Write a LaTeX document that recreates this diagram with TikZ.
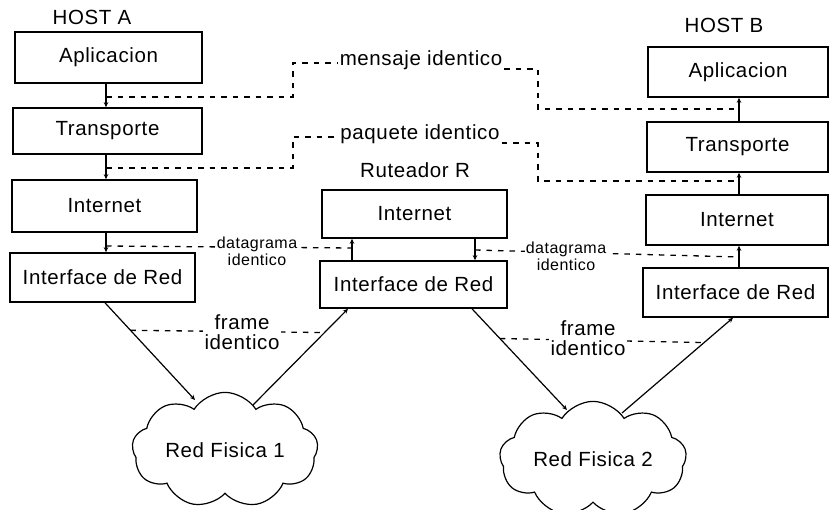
\documentclass[tikz,border=0pt]{standalone}
\usepackage{fontspec}
\setmainfont{Liberation Sans}[LetterSpace=3]
\usetikzlibrary{arrows.meta,shapes.symbols,calc}

\tikzset{
  layer/.style={draw, line width=1.6pt, inner sep=0pt, fill=white,
    font=\fontsize{20.5}{22}\selectfont},
  title/.style={font=\fontsize{20.5}{22}\selectfont},
  lbl/.style={fill=white, inner sep=2pt, align=center,
    font=\fontsize{20.5}{20}\selectfont},
  smalllbl/.style={fill=white, inner sep=1pt, align=center,
    font=\fontsize{16}{17}\selectfont},
  flow/.style={line width=1.2pt, -{Stealth[length=5pt,width=4.5pt]}},
  peer/.style={line width=1.3pt, dash pattern=on 5.5pt off 6pt},
  net/.style={cloud, draw, line width=1.2pt, cloud puffs=9, cloud puff arc=115,
    aspect=1.9, inner sep=0pt, font=\fontsize{20.5}{22}\selectfont},
}

\begin{document}
\begin{tikzpicture}[x=1pt, y=-1pt]
\useasboundingbox (0,0) rectangle (830,510);

% ---- Host A stack
\node[title] (hostA) at (92,17) {HOST A};
\node[layer, minimum width=187pt, minimum height=51pt] (aApp) at (108.5,57.5) {Aplicacion};
\node[layer, minimum width=189pt, minimum height=46pt] (aTra) at (107.5,131) {Transporte};
\node[layer, minimum width=185pt, minimum height=52pt] (aInt) at (104.5,206) {Internet};
\node[layer, minimum width=185pt, minimum height=49pt] (aIR)  at (102.5,277.5) {Interface de Red};

% ---- Router R stack
\node[title] (router) at (415,170) {Ruteador R};
\node[layer, minimum width=185pt, minimum height=48pt] (rInt) at (414.5,214) {Internet};
\node[layer, minimum width=187pt, minimum height=47pt] (rIR)  at (413.5,284.5) {Interface de Red};

% ---- Host B stack
\node[title] (hostB) at (724,25) {HOST B};
\node[layer, minimum width=180pt, minimum height=50pt] (bApp) at (738,72) {Aplicacion};
\node[layer, minimum width=181pt, minimum height=50pt] (bTra) at (737.5,147) {Transporte};
\node[layer, minimum width=182pt, minimum height=50pt] (bInt) at (737,220) {Internet};
\node[layer, minimum width=185pt, minimum height=49pt] (bIR)  at (735.5,292.5) {Interface de Red};

% ---- physical networks
\node[net, minimum width=186pt, minimum height=100pt] (net1) at (225,450) {Red Fisica 1};
\node[net, minimum width=187pt, minimum height=98pt] (net2) at (593,459) {Red Fisica 2};

% columns of the vertical flows
\coordinate (xA) at (106,0);
\coordinate (xB) at (739,0);
\coordinate (xRl) at (352,0);
\coordinate (xRr) at (475,0);

% ---- flows inside each stack
\draw[flow] (aApp.south -| xA) -- (aTra.north -| xA);
\draw[flow] (aTra.south -| xA) -- (aInt.north -| xA);
\draw[flow] (aInt.south -| xA) -- (aIR.north -| xA);

\draw[flow] (rIR.north -| xRl) -- (rInt.south -| xRl);
\draw[flow] (rInt.south -| xRr) -- (rIR.north -| xRr);

\draw[flow] (bIR.north -| xB) -- (bInt.south -| xB);
\draw[flow] (bInt.north -| xB) -- (bTra.south -| xB);
\draw[flow] (bTra.north -| xB) -- (bApp.south -| xB);

% ---- links to the physical networks
\coordinate (aOut) at (aIR.south -| 105,0);
\coordinate (n1in) at ($(net1.center)+(-30,-50)$);
\coordinate (n1out) at ($(net1.center)+(28,-45)$);
\coordinate (rInP) at (rIR.south -| 348,0);
\coordinate (rOutP) at (rIR.south -| 472,0);
\coordinate (n2in) at ($(net2.center)+(-26,-49)$);
\coordinate (n2out) at ($(net2.center)+(29,-46)$);
\coordinate (bInP) at (bIR.south -| 733,0);

\draw[flow] (aOut) -- (n1in);
\draw[flow] (n1out) -- (rInP);
\draw[flow] (rOutP) -- (n2in);
\draw[flow] (n2out) -- (bInP);

% ---- peer-to-peer (dashed) relations
% mensaje identico
\node[lbl] (msg) at (421,60) {mensaje identico};
\coordinate (m1) at (xA |- 0,97);
\coordinate (m2) at (739,109);
\draw[peer] (m1) -- (293,97) -- (293,63) -- (msg.west |- 0,63);
\draw[peer] (msg.east |- 0,69) -- (538,69) -- (538,109) -- (m2);

% paquete identico
\node[lbl] (pkt) at (420,134) {paquete identico};
\coordinate (p1) at (xA |- 0,168);
\coordinate (p2) at (739,181);
\draw[peer] (p1) -- (293,168) -- (293,137) -- (pkt.west |- 0,137);
\draw[peer] (pkt.east |- 0,143) -- (538,143) -- (538,181) -- (p2);

% datagrama identico
\coordinate (d1) at (xA |- 0,246);
\coordinate (d2) at (xRl |- 0,248);
\coordinate (d3) at (xRr |- 0,250);
\coordinate (d4) at (739,257);
\draw[peer] (d1) -- (d2);
\draw[peer] (d3) -- (d4);
\node[smalllbl] (dgA) at (257,251) {datagrama\\identico};
\node[smalllbl] (dgB) at (566,256) {datagrama\\identico};

% frame identico
\coordinate (f1) at ($(aOut)!0.283!(n1in)$);
\coordinate (f2) at ($(n1out)!0.753!(rInP)$);
\coordinate (f3) at ($(rOutP)!0.294!(n2in)$);
\coordinate (f4) at ($(n2out)!0.74!(bInP)$);
\draw[peer] (f1) -- (f2);
\draw[peer] (f3) -- (f4);
\node[lbl] (frA) at (242,332) {frame\\identico};
\node[lbl] (frB) at (588,338) {frame\\identico};
\end{tikzpicture}
\end{document}
